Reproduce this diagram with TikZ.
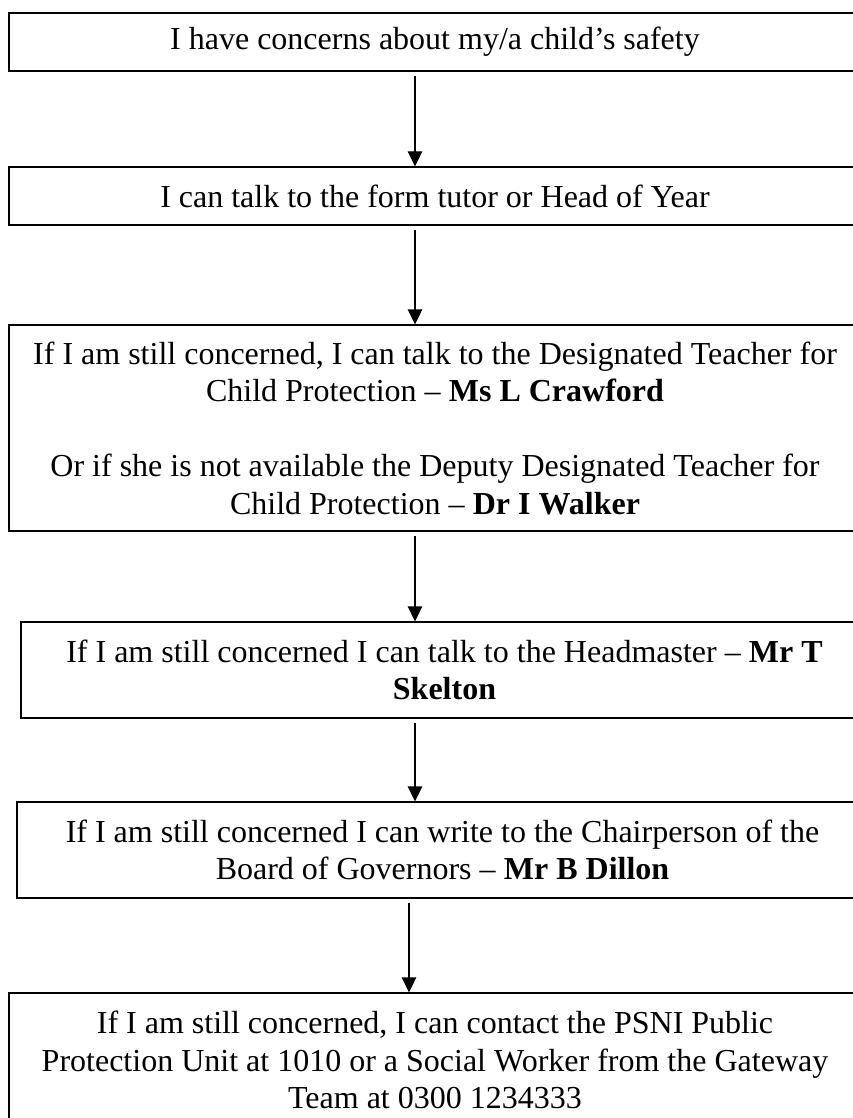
\documentclass[tikz,border=0pt]{standalone}
\usepackage{fontspec}
\setmainfont{Liberation Serif}
\usetikzlibrary{arrows.meta}

\begin{document}
\begin{tikzpicture}[x=1pt,y=-1pt,
  stepbox/.style={draw,line width=1.3pt,rectangle,inner sep=0pt,align=center,
    font=\fontsize{32}{37.5}\selectfont},
  flow/.style={-{Triangle[length=15pt,width=14.5pt]},line width=1.3pt,shorten <=4pt}]
% Page frame
\useasboundingbox[fill=white] (0,0) rectangle (853,1118);

% Draw the steps
\node[stepbox,minimum width=852pt,minimum height=58pt] (concern) at (435,42)
  {I have concerns about my/a child’s safety};
\node[stepbox,minimum width=852pt,minimum height=58pt] (tutor) at (435,196)
  {I can talk to the form tutor or Head of Year};
\node[stepbox,minimum width=852pt,minimum height=206pt] (designated) at (435,428)
  {If I am still concerned, I can talk to the Designated Teacher for\\
   Child Protection – \textbf{Ms L Crawford}\\[37.5pt]
   Or if she is not available the Deputy Designated Teacher for\\
   Child Protection – \textbf{Dr I Walker}};
\node[stepbox,minimum width=847pt,minimum height=96pt] (head) at (444.5,670)
  {If I am still concerned I can talk to the Headmaster – \textbf{Mr T}\\
   \textbf{Skelton}};
\node[stepbox,minimum width=851pt,minimum height=96pt] (chair) at (442.5,850)
  {If I am still concerned I can write to the Chairperson of the\\
   Board of Governors – \textbf{Mr B Dillon}};
\node[stepbox,minimum width=852pt,minimum height=134pt] (psni) at (435,1060)
  {If I am still concerned, I can contact the PSNI Public\\
   Protection Unit at 1010 or a Social Worker from the Gateway\\
   Team at 0300 1234333};

% Add arrows
\coordinate (col) at (415,0);
\coordinate (colB) at (409,0);
\draw[flow] (concern.south -| col) -- (tutor.north -| col);
\draw[flow] (tutor.south -| col) -- (designated.north -| col);
\draw[flow] (designated.south -| col) -- (head.north -| col);
\draw[flow] (head.south -| col) -- (chair.north -| col);
\draw[flow] (chair.south -| colB) -- (psni.north -| colB);
\end{tikzpicture}
\end{document}
